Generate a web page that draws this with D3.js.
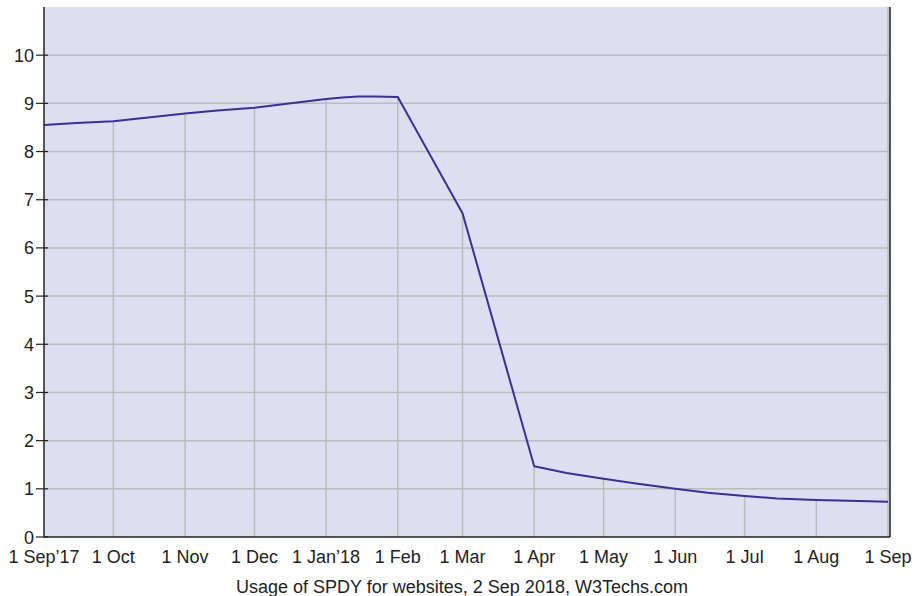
<!DOCTYPE html>
<html>
<head>
<meta charset="utf-8">
<script src="https://cdn.jsdelivr.net/npm/d3@7"></script>
<style>
  body { margin: 0; background: #fff; }
  text { font-family: "Liberation Sans", Arial, sans-serif; fill: #222; }
</style>
</head>
<body>
<div id="container"></div>
<script>
// Usage of SPDY, percent of websites
const dates = ["2017-09-01","2017-09-15","2017-10-01","2017-10-15","2017-11-01","2017-11-15",
  "2017-12-01","2017-12-15","2018-01-01","2018-01-08","2018-01-15","2018-01-22","2018-02-01",
  "2018-03-01","2018-04-01","2018-04-15","2018-05-01","2018-05-15","2018-06-01","2018-06-15",
  "2018-07-01","2018-07-15","2018-08-01","2018-08-15","2018-09-01"];
const values = [8.55, 8.59, 8.63, 8.70, 8.79, 8.85, 8.91, 8.99, 9.09, 9.12, 9.14, 9.14, 9.13,
  6.72, 1.47, 1.33, 1.21, 1.11, 1.00, 0.92, 0.85, 0.80, 0.77, 0.75, 0.73];
const monthTicks = ["2017-09-01","2017-10-01","2017-11-01","2017-12-01","2018-01-01","2018-02-01",
  "2018-03-01","2018-04-01","2018-05-01","2018-06-01","2018-07-01","2018-08-01","2018-09-01"];
const monthLabels = ["1 Sep\u201917","1 Oct","1 Nov","1 Dec","1 Jan\u201918","1 Feb","1 Mar",
  "1 Apr","1 May","1 Jun","1 Jul","1 Aug","1 Sep"];
const yTicks = [0,1,2,3,4,5,6,7,8,9,10];
const caption = "Usage of SPDY for websites, 2 Sep 2018, W3Techs.com";

const width = 917, height = 596;
const plotLeft = 44, plotRight = 888, plotTop = 7, plotBottom = 537;

const parse = d3.timeParse("%Y-%m-%d");
const data = dates.map((d, i) => ({ date: parse(d), value: values[i] }));

const x = d3.scaleTime()
  .domain([parse(dates[0]), parse(dates[dates.length - 1])])
  .range([plotLeft, plotRight]);
const y = d3.scaleLinear().domain([0, 11]).range([plotBottom, plotTop]);

const svg = d3.select("#container").append("svg")
  .attr("width", width)
  .attr("height", height);

// plot background
svg.append("rect")
  .attr("x", plotLeft).attr("y", plotTop)
  .attr("width", plotRight - plotLeft + 2).attr("height", plotBottom - plotTop)
  .attr("fill", "#dcdff0");

// horizontal grid
svg.selectAll("line.hgrid")
  .data(yTicks.filter(d => d > 0))
  .join("line")
  .attr("class", "hgrid")
  .attr("x1", plotLeft).attr("x2", plotRight + 2)
  .attr("y1", d => y(d)).attr("y2", d => y(d))
  .attr("stroke", "#bbbbbb").attr("stroke-width", 1.5);

// vertical grid, from baseline up to the curve
const valueAt = d => data.find(p => +p.date === +parse(d)).value;
svg.selectAll("line.vgrid")
  .data(monthTicks.slice(1))
  .join("line")
  .attr("class", "vgrid")
  .attr("x1", d => x(parse(d))).attr("x2", d => x(parse(d)))
  .attr("y1", plotBottom)
  .attr("y2", (d, i) => i === monthTicks.length - 2 ? plotTop : y(valueAt(d)))
  .attr("stroke", "#bbbbbb").attr("stroke-width", 1.5);

// data line
const line = d3.line()
  .x(d => x(d.date))
  .y(d => y(d.value));

svg.append("path")
  .datum(data)
  .attr("d", line)
  .attr("fill", "none")
  .attr("stroke", "#3b2f95")
  .attr("stroke-width", 2)
  .attr("stroke-linejoin", "round");

// axes frame
svg.append("line")
  .attr("x1", plotLeft).attr("x2", plotLeft)
  .attr("y1", plotTop).attr("y2", plotBottom)
  .attr("stroke", "#222").attr("stroke-width", 1.5);
svg.append("line")
  .attr("x1", plotRight + 2).attr("x2", plotRight + 2)
  .attr("y1", plotTop).attr("y2", plotBottom)
  .attr("stroke", "#222").attr("stroke-width", 1.5);
svg.append("line")
  .attr("x1", plotLeft).attr("x2", plotRight + 2)
  .attr("y1", plotBottom).attr("y2", plotBottom)
  .attr("stroke", "#222").attr("stroke-width", 1.5);

// y ticks + labels
svg.selectAll("line.ytick")
  .data(yTicks)
  .join("line")
  .attr("class", "ytick")
  .attr("x1", plotLeft - 8).attr("x2", plotLeft + 4)
  .attr("y1", d => y(d)).attr("y2", d => y(d))
  .attr("stroke", "#222").attr("stroke-width", 1.2);

svg.selectAll("text.ylab")
  .data(yTicks)
  .join("text")
  .attr("class", "ylab")
  .attr("x", plotLeft - 10)
  .attr("y", d => y(d) + 6.5)
  .attr("text-anchor", "end")
  .attr("font-size", 18)
  .text(d => d);

// x labels
svg.selectAll("text.xlab")
  .data(monthTicks)
  .join("text")
  .attr("class", "xlab")
  .attr("x", d => x(parse(d)))
  .attr("y", 562.5)
  .attr("text-anchor", "middle")
  .attr("font-size", 18)
  .text((d, i) => monthLabels[i]);

svg.append("text")
  .attr("x", 462)
  .attr("y", 592.5)
  .attr("text-anchor", "middle")
  .attr("font-size", 18)
  .text(caption);
</script>
</body>
</html>
